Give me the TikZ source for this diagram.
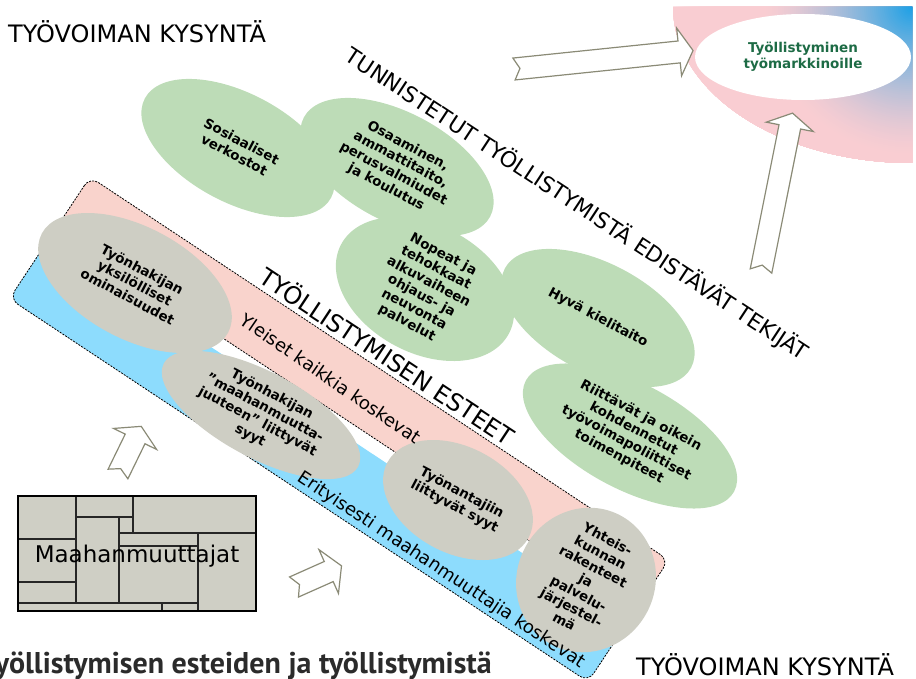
\documentclass[tikz,border=0pt]{standalone}
\usepackage{fontspec}
\setmainfont{DejaVu Sans}
\newfontfamily\titlefont{PT Sans}
\usetikzlibrary{shapes.geometric}

\definecolor{blobgreen}{HTML}{BDDCB7}
\definecolor{blobgray}{HTML}{CECEC4}
\definecolor{bandpink}{HTML}{F9D3CC}
\definecolor{bandblue}{HTML}{8DDCFD}
\definecolor{boxgray}{HTML}{CFCFC5}
\definecolor{cornerpink}{HTML}{F9CDD2}
\definecolor{cornerblue}{HTML}{1AA0E6}
\definecolor{titlegreen}{HTML}{1D6B45}
\definecolor{arrowgray}{HTML}{8A8A76}
\definecolor{titlegray}{HTML}{2B2B2B}

\begin{document}
\begin{tikzpicture}[x=1pt, y=-1pt,
    blob/.style={ellipse, inner sep=0pt, align=center, rotate=-28, font=\bfseries\fontsize{13.5}{15.5}\selectfont},
    greenblob/.style={blob, fill=blobgreen},
    grayblob/.style={blob, fill=blobgray},
    bigtext/.style={inner sep=0pt, font=\fontsize{24}{27}\selectfont},
    bandtext/.style={inner sep=0pt, font=\fontsize{18}{21}\selectfont},
    dashline/.style={dash pattern=on 2pt off 1.2pt, line width=0.8pt},
    brick/.style={line width=1.4pt, draw=black!85},
    pics/blockarrow/.style={code={
      \draw[line width=1.2pt, draw=arrowgray, fill=white, line join=miter]
        (0,11) -- (#1-14,11) -- (#1-14,24) -- (#1,0) -- (#1-14,-24) -- (#1-14,-11) -- (0,-11) -- (6,0) -- cycle;
    }},
]
    \useasboundingbox (0,0) rectangle (916,679);
    \clip (0,0) rectangle (916,679);

    % goal corner
    \begin{scope}
      \clip (912,7) -- (673,7) arc[start angle=180, end angle=270, x radius=239pt, y radius=156pt] -- cycle;
      \foreach \r in {250,248,...,0} {
        \pgfmathsetmacro\p{100*max(0,1-\r/150)^1.5}
        \fill[cornerblue!\p!cornerpink] (912,7) circle[radius=\r pt];
      }
    \end{scope}
    \node[ellipse, fill=white, minimum width=216, minimum height=86, inner sep=0pt, align=center,
          font=\bfseries\fontsize{13.5}{16}\selectfont, text=titlegreen] (tyollist) at (803,57) {Työllistyminen\\työmarkkinoille};

    % edistavat tekijat
    \node[greenblob, minimum width=211, minimum height=109] (sosverk) at (238,148) {Sosiaaliset\\verkostot};
    \node[greenblob, minimum width=211, minimum height=109] (osaam) at (397,167) {Osaaminen,\\ammattitaito,\\perusvalmiudet\\ja koulutus};
    \node[greenblob, minimum width=236, minimum height=106] (toimenp) at (630,436) {Riittävät ja oikein\\kohdennetut\\työvoimapoliittiset\\toimenpiteet};
    \node[greenblob, minimum width=211, minimum height=109] (kieli) at (598,318) {Hyvä kielitaito};
    \node[greenblob, minimum width=190, minimum height=114] (nopeat) at (425,289) {Nopeat ja\\tehokkaat\\alkuvaiheen\\ohjaus- ja\\neuvonta\\palvelut};

    \node[font=\fontsize{21.8}{25}\selectfont, inner sep=0pt, rotate=-33.3] (tunnist) at (577,204) {TUNNISTETUT TYÖLLISTYMISTÄ EDISTÄVÄT TEKIJÄT};

    % esteet band
    \begin{scope}[shift={(90,177)}, rotate=-33.5]
      \begin{scope}
        \clip[rounded corners=10pt] (0,0) rectangle (694,146);
        \fill[bandpink] (0,0) rectangle (694,61);
        \fill[bandblue] (0,75) rectangle (694,146);
      \end{scope}
      \draw[dashline] (0,61) -- (694,61);
      \draw[dashline, rounded corners=10pt] (0,0) rectangle (694,146);
    \end{scope}

    \node[grayblob, minimum width=211, minimum height=112] (yksil) at (135,283) {Työnhakijan\\yksilölliset\\ominaisuudet};
    \node[grayblob, minimum width=220, minimum height=86] (maahan) at (261,415) {Työnhakijan\\”maahanmuutta-\\juuteen” liittyvät\\syyt};
    \node[grayblob, minimum width=160, minimum height=106] (tyonant) at (458,500) {Työnantajiin\\liittyvät syyt};
    \node[grayblob, minimum width=138, minimum height=108] (yhteisk) at (586,580) {Yhteis-\\kunnan\\rakenteet\\ja\\palvelu-\\järjestel-\\mä};

    \begin{scope}[shift={(90,177)}, rotate=-33.5]
      \node[bigtext, transform shape, anchor=base] (esteet) at (347,-5) {TYÖLLISTYMISEN ESTEET};
      \node[bandtext, transform shape, anchor=base, rotate=-1] (yleiset) at (312,42) {Yleiset kaikkia koskevat};
      \node[bandtext, transform shape, anchor=base] (erityis) at (510,139) {Erityisesti maahanmuuttajia koskevat};
    \end{scope}

    % block arrows
    \pic[rotate=5.9] at (514,69) {blockarrow=180};
    \pic[rotate=78.7] at (761,271) {blockarrow=161};
    \pic[rotate=64] at (118,474) {blockarrow=53};
    \pic[rotate=24] at (294,587) {blockarrow=52};

    % maahanmuuttajat
    \fill[boxgray] (18,496) rectangle (256,611);
    \foreach \xa/\ya/\xb/\yb in {76/496/76/603, 18/539/76/539, 18/582/76/582, 18/603/198/603,
        162/603/162/611, 76/517/133/517, 133/496/133/533, 119/517/119/603,
        119/533/256/533, 198/533/198/611, 119/546/198/546}
      \draw[brick] (\xa,\ya) -- (\xb,\yb);
    \node[draw, line width=1.4pt, minimum width=238, minimum height=115, inner sep=0pt, text depth=0pt,
          font=\fontsize{23}{27}\selectfont] (maahanm) at (137,553.5) {Maahanmuuttajat};

    \node[bigtext, anchor=base west] (kysynta1) at (8,43) {TYÖVOIMAN KYSYNTÄ};
    \node[bigtext, anchor=base west] (kysynta2) at (636,675) {TYÖVOIMAN KYSYNTÄ};
    \node[anchor=base east, inner sep=0pt, text=titlegray, font=\titlefont\bfseries\fontsize{30}{34}\selectfont] (otsikko) at (492,673) {Työllistymisen esteiden ja työllistymistä};
\end{tikzpicture}
\end{document}
